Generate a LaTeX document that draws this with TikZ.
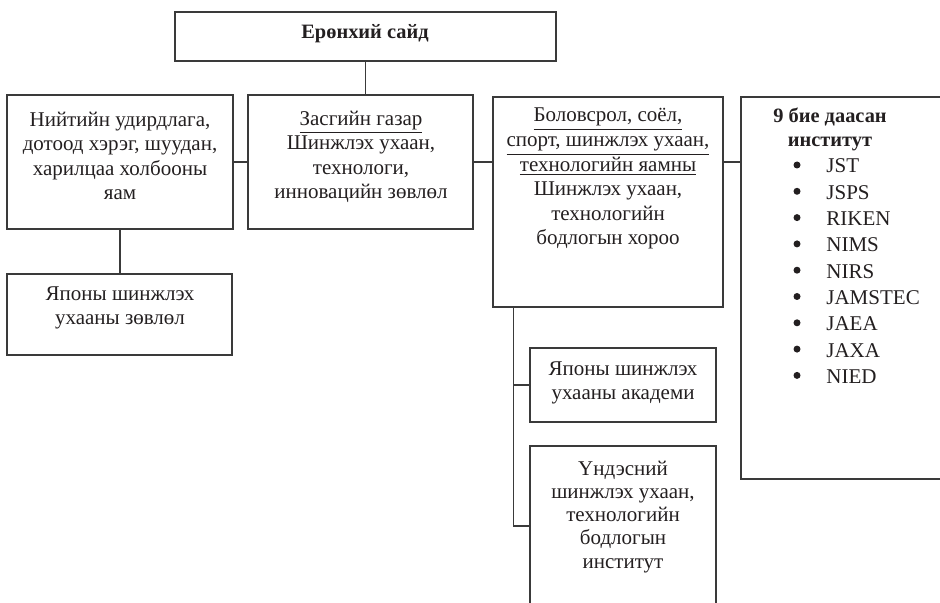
\documentclass[tikz,border=0pt]{standalone}
\usepackage{fontspec}
\setmainfont{Liberation Serif}
\usetikzlibrary{calc}
\usetikzlibrary{fit}
\definecolor{orgline}{HTML}{3A3A3A}
\definecolor{orgink}{HTML}{231F20}
\newcommand{\orgfont}{\fontsize{10.5}{12.3}\selectfont}
\tikzset{
  orgbox/.style={draw=orgline, line width=0.6pt, inner sep=0pt},
  orglink/.style={draw=orgline, line width=0.6pt},
  orgtext/.style={
    anchor=base, align=center, font=\orgfont, text=orgink, inner sep=0pt},
  orghead/.style={
    orgtext, font=\fontsize{10.2}{12.3}\selectfont\bfseries},
  orgitem/.style={
    anchor=base west, font=\orgfont, text=orgink, inner sep=0pt},
}

\begin{document}
\begin{tikzpicture}[x=0.5pt, y=-0.5pt]
\useasboundingbox (0,0) rectangle (940,603);
\clip (0,0) rectangle (940,603);

% Head of the chart.
% (text nodes sit on the baseline of their last line)
\node[orgbox, fit={(175,12) (556,61)}] (pm) {};
\node[orghead] (pmtxt) at (365,39) {Ерөнхий сайд};

% Second row: ministries, council and the institutes panel.
\node[orgbox, fit={(7,95) (233,229)}] (mic) {};
\node[orgtext] (mictxt) at (120,200)
  {Нийтийн удирдлага,\\ дотоод хэрэг, шуудан,\\ харилцаа холбооны\\ яам};

\node[orgbox, fit={(248,95) (473,229)}] (cstip) {};
\node[orgtext] (cstiptxt) at (361,199)
  {\underline{Засгийн газар}\\ Шинжлэх ухаан,\\ технологи,\\
   инновацийн зөвлөл};

\node[orgbox, fit={(493,97) (723,307)}] (mext) {};
\node[orgtext] (mexttxt) at (608,245)
  {\underline{Боловсрол, соёл,}\\ \underline{спорт, шинжлэх ухаан,}\\
   \underline{технологийн яамны}\\ Шинжлэх ухаан,\\ технологийн\\
   бодлогын хороо};

% Right panel runs past the page edge.
\node[orgbox, fit={(741,97) (960,479)}] (inst) {};
\node[orghead] (insttxt) at (830,147) {9 бие даасан\\ институт};
\foreach \name [count=\k from 0] in
    {JST, JSPS, RIKEN, NIMS, NIRS, JAMSTEC, JAEA, JAXA, NIED} {
  \node[orgitem] (item\k) at (826, {173 + 26.3*\k}) {\name};
  \fill[orgink] (797, {165 + 26.3*\k}) circle (1.75pt);
}

% Lower boxes.
\node[orgbox, fit={(7,274) (232,355)}] (scj) {};
\node[orgtext] (scjtxt) at (120,325) {Японы шинжлэх\\ ухааны зөвлөл};

\node[orgbox, fit={(530,348) (716,422)}] (jaa) {};
\node[orgtext] (jaatxt) at (623,400) {Японы шинжлэх\\ ухааны академи};

\node[orgbox, fit={(530,446) (716,640)}] (nistep) {};
\node[orgtext, font=\fontsize{10.5}{11.6}\selectfont] (nisteptxt)
  at (623,568)
  {Үндэсний\\ шинжлэх ухаан,\\ технологийн\\ бодлогын\\ институт};

% Connectors.
\draw[orglink] (pm.south) -- (pm.south |- cstip.north);
\draw[orglink] (mic.east) -- (cstip.west);
\draw[orglink] (cstip.east) -- (cstip.east -| mext.west);
\draw[orglink] (cstip.east -| mext.east) -- (cstip.east -| inst.west);
\draw[orglink] (mic.south) -- (mic.south |- scj.north);

\coordinate (trunk) at ($(mext.south west)+(21,0)$);
\coordinate (trunkend) at (trunk |- 0,526);
\draw[orglink] (trunk) -- (trunkend) -- (trunkend -| nistep.west);
\draw[orglink] (trunk |- jaa.west) -- (jaa.west);

\end{tikzpicture}
\end{document}
